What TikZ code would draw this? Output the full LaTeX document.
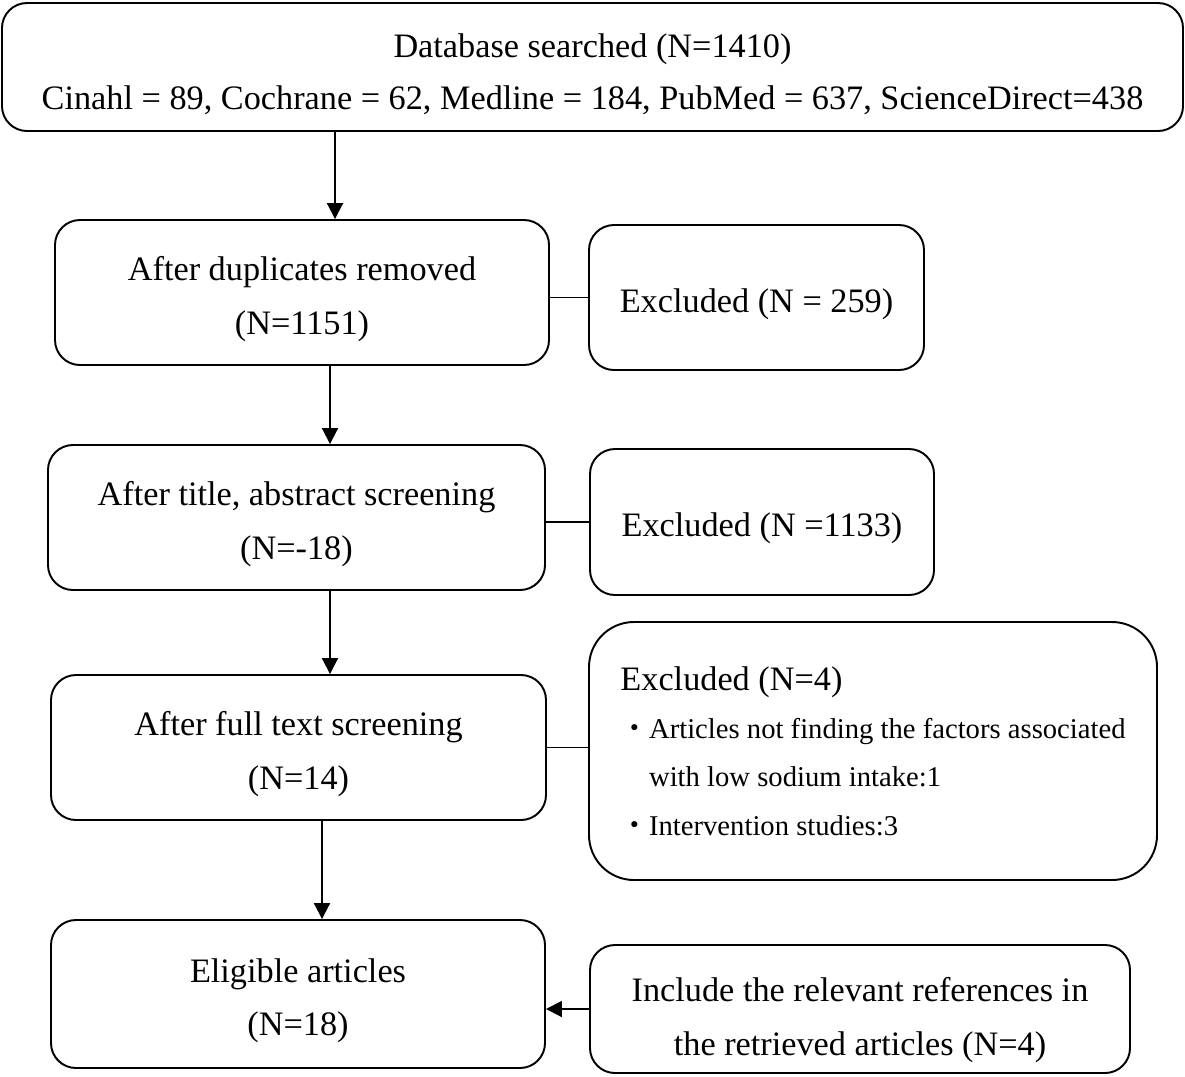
\documentclass[tikz,border=0pt]{standalone}
\usepackage{fontspec}
\setmainfont{Liberation Serif}
\newfontfamily\cjk{Noto Sans CJK JP}
\usetikzlibrary{arrows.meta}
\newcommand\padtop[1][7.4mm]{\rule{0pt}{#1}}

\begin{document}
\begin{tikzpicture}[x=0.2mm, y=-0.2mm,
   every node/.style={draw, line width=1.1pt, rounded corners=5mm, align=center,
     font=\fontsize{19.5}{30.5}\selectfont, inner sep=0pt},
   stagebox/.style={minimum width=9.9cm, minimum height=2.9cm},
   link/.style={-{Triangle[length=3.2mm,width=3.2mm]}, line width=1.1pt},
   side/.style={line width=0.8pt}]

\useasboundingbox (0,0) rectangle (1185,1076);

% main stages
\node[minimum width=23.62cm, minimum height=2.56cm, font=\fontsize{19.5}{29.5}\selectfont] (search) at (592.5,67)
    {\padtop[7.8mm]Database searched (N=1410)\\Cinahl = 89, Cochrane = 62, Medline = 184, PubMed = 637, ScienceDirect=438};
\node[stagebox, minimum width=9.88cm] (dup) at (302,292.5) {\padtop After duplicates removed\\(N=1151)};
\node[stagebox, minimum width=9.94cm] (title) at (296.5,517.5) {\padtop After title, abstract screening\\(N=-18)};
\node[stagebox] (full) at (298.5,747.5) {\padtop After full text screening\\(N=14)};
\node[stagebox, minimum width=9.88cm, minimum height=2.96cm] (elig) at (298,994) {\padtop Eligible articles\\(N=18)};

% side boxes
\node[minimum width=6.7cm, minimum height=2.9cm] (excl1) at (756.5,297.5) {\padtop Excluded (N = 259)};
\node[minimum width=6.88cm, minimum height=2.92cm] (excl2) at (762,522) {\padtop Excluded (N =1133)};
\node[minimum width=11.36cm, minimum height=5.16cm, rounded corners=9mm, align=left,
      font=\fontsize{19.5}{29}\selectfont] (excl3) at (873,751)
    {Excluded (N=4)\\[-0.5mm]
     {\fontsize{16.3}{29}\selectfont{\cjk ・}Articles not finding the factors associated}\\[-0.5mm]
     {\fontsize{16.3}{29}\selectfont\hspace*{1em}with low sodium intake:1}\\[-0.5mm]
     {\fontsize{16.3}{29}\selectfont{\cjk ・}Intervention studies:3}};
\node[minimum width=10.8cm, minimum height=2.56cm] (incl) at (860,1009)
    {\padtop[9.2mm]Include the relevant references in\\the retrieved articles (N=4)};

% connectors
\draw[link] ([xshift=-5.15cm]search.south) -- ([xshift=-5.15cm]search.south |- dup.north);
\draw[link] ([xshift=5.6mm]dup.south) -- ([xshift=5.6mm]dup.south |- title.north);
\draw[link] ([xshift=6.7mm]title.south) -- ([xshift=6.7mm]title.south |- full.north);
\draw[link] ([xshift=4.7mm]full.south) -- ([xshift=4.7mm]full.south |- elig.north);
\draw[side] (excl1.west) -- (excl1.west -| dup.east);
\draw[side] (excl2.west) -- (excl2.west -| title.east);
\draw[side] (full.east) -- (full.east -| excl3.west);
\draw[link] (incl.west) -- (incl.west -| elig.east);

\end{tikzpicture}
\end{document}
